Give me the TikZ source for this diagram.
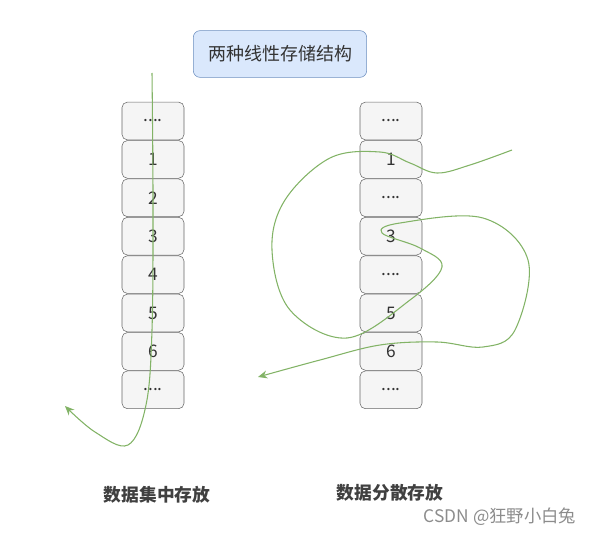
\documentclass[tikz,border=0pt]{standalone}
\usepackage{fontspec}
\newfontfamily\cjk{Noto Sans CJK SC}
\usepackage{tikz}
\usetikzlibrary{arrows.meta}

\definecolor{cellfill}{HTML}{F5F5F5}
\definecolor{celldraw}{HTML}{666666}
\definecolor{titlefill}{HTML}{DAE8FC}
\definecolor{titledraw}{HTML}{6C8EBF}
\definecolor{pathgreen}{HTML}{82B366}
\newcommand{\skipcell}{....}

\tikzset{
  cell/.style={draw=celldraw,fill=cellfill,rounded corners=4pt,minimum width=46.5pt,
    minimum height=28.3pt,inner sep=0pt,font=\cjk\fontsize{13}{15}\selectfont,text=black!80},
  titlebox/.style={draw=titledraw,fill=titlefill,rounded corners=5pt,minimum width=130pt,
    minimum height=35pt,font=\cjk\fontsize{13.5}{15}\selectfont,text=black!80},
  caption/.style={font=\cjk\bfseries\fontsize{13.3}{15}\selectfont,text=black!75},
  route/.style={pathgreen,line width=0.8pt,-{Stealth[length=7pt,width=6pt]}}
}

\begin{document}
\begin{tikzpicture}[x=0.75pt,y=-0.75pt]
\useasboundingbox (0,0) rectangle (593,535);

\node[titlebox] (title) at (280,54) {两种线性存储结构};

% left column: stored one after another
\foreach \lab [count=\i from 0] in {\skipcell,1,2,3,4,5,6,\skipcell}
  \node[cell] (l\i) at (153,121+38.4*\i) {\lab};
% right column: scattered storage
\foreach \lab [count=\i from 0] in {\skipcell,1,\skipcell,3,\skipcell,5,6,\skipcell}
  \node[cell] (r\i) at (391,121+38.4*\i) {\lab};

\node[caption] (lcap) at (157,495) {数据集中存放};
\node[caption] (rcap) at (390,493) {数据分散存放};
\node[font=\cjk\fontsize{13}{15}\selectfont,text=black!45] (mark) at (500,517) {CSDN @狂野小白兔};

\coordinate (lstart) at (152,73);
\coordinate (lend) at (65,406);
\coordinate (rstart) at (512,150);
\coordinate (rend) at (258,377);

\draw[route] plot[smooth,tension=0.6] coordinates {(lstart) (153,200) (152,330) (146,405) (128,445) (95,432) (lend)};
\draw[route] plot[smooth,tension=0.6] coordinates {(rstart) (470,165) (437,173) (410,163) (380,152)
  (330,158) (285,200) (272,250) (290,310) (347,338) (410,300) (442,267) (420,248) (382,233)
  (400,223) (483,218) (528,260) (515,330) (483,347) (437,342) (380,345) (320,360) (rend)};
\end{tikzpicture}
\end{document}
